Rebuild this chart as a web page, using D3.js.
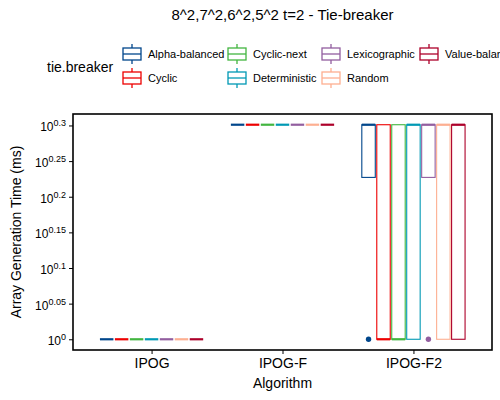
<!DOCTYPE html>
<html>
<head>
<meta charset="utf-8">
<script src="https://cdn.jsdelivr.net/npm/d3@7"></script>
<style>
  body { margin: 0; background: #fff; }
  svg { font-family: "Liberation Sans", Arial, sans-serif; }
</style>
</head>
<body>
<div id="viz"></div>
<script>
// ── DATA ────────────────────────────────────────────────────────────────────
const algorithms = ["IPOG", "IPOG-F", "IPOG-F2"];
const tieBreakers = ["Alpha-balanced", "Cyclic", "Cyclic-next", "Deterministic",
                     "Lexicographic", "Random", "Value-balanced"];
const palette = ["#00468B", "#ED0000", "#42B540", "#0099B4", "#925E9F", "#FDAF91", "#AD002A"];

// box stats per tie-breaker: [ymin, lower, middle, upper, ymax] in ms
const ipogBoxes = [
  [1, 1, 1, 1, 1], [1, 1, 1, 1, 1], [1, 1, 1, 1, 1], [1, 1, 1, 1, 1],
  [1, 1, 1, 1, 1], [1, 1, 1, 1, 1], [1, 1, 1, 1, 1]
];
const ipogFBoxes = [
  [2, 2, 2, 2, 2], [2, 2, 2, 2, 2], [2, 2, 2, 2, 2], [2, 2, 2, 2, 2],
  [2, 2, 2, 2, 2], [2, 2, 2, 2, 2], [2, 2, 2, 2, 2]
];
const ipogF2Boxes = [
  [1.687, 1.687, 2, 2, 2],
  [1, 1, 1, 2, 2],
  [1, 1, 1, 2, 2],
  [1, 1, 2, 2, 2],
  [1.687, 1.687, 2, 2, 2],
  [1, 1, 2, 2, 2],
  [1, 1, 2, 2, 2]
];
const ipogF2Outliers = [[1], [], [], [], [1], [], []];

const yExponents = [0, 0.05, 0.1, 0.15, 0.2, 0.25, 0.3];
const yExpLabels = ["0", "0.05", "0.1", "0.15", "0.2", "0.25", "0.3"];

// ── SETTINGS ────────────────────────────────────────────────────────────────
const width = 500, height = 400;
const panel = { left: 73, right: 492, top: 114, bottom: 350 };

const svg = d3.select("#viz").append("svg")
    .attr("viewBox", [0, 0, width, height])
    .attr("width", width)
    .attr("height", height);

const boxesByAlg = [ipogBoxes, ipogFBoxes, ipogF2Boxes];
const outliersByAlg = [tieBreakers.map(() => []), tieBreakers.map(() => []), ipogF2Outliers];

const rows = [];
algorithms.forEach((alg, ai) => {
  tieBreakers.forEach((tb, ti) => {
    const s = boxesByAlg[ai][ti];
    rows.push({ alg, tb, ymin: s[0], lower: s[1], middle: s[2], upper: s[3], ymax: s[4],
                out: outliersByAlg[ai][ti] });
  });
});

// ── SCALES ──────────────────────────────────────────────────────────────────
const lo = Math.log10(1), hi = Math.log10(2);
const pad = (hi - lo) * 0.05;
const y = d3.scaleLog()
    .domain([Math.pow(10, lo - pad), Math.pow(10, hi + pad)])
    .range([panel.bottom, panel.top]);

const x = d3.scalePoint()
    .domain(algorithms)
    .range([panel.left, panel.right])
    .padding(0.6);

const dodge = d3.scaleBand()
    .domain(tieBreakers)
    .range([-0.4 * x.step(), 0.4 * x.step()])
    .paddingInner(0.1)
    .paddingOuter(0.05);

const color = d3.scaleOrdinal().domain(tieBreakers).range(palette);

// ── TITLE ───────────────────────────────────────────────────────────────────
svg.append("text")
    .attr("x", (panel.left + panel.right) / 2)
    .attr("y", 20)
    .attr("text-anchor", "middle")
    .attr("font-size", "15px")
    .attr("fill", "#000")
    .text("8^2,7^2,6^2,5^2 t=2 - Tie-breaker");

// ── LEGEND ──────────────────────────────────────────────────────────────────
svg.append("text")
    .attr("x", 47)
    .attr("y", 72)
    .attr("font-size", "14px")
    .attr("fill", "#000")
    .text("tie.breaker");

const colX = [122, 227, 321, 419];
const rowY = [54, 78];
const key = svg.append("g").selectAll("g")
  .data(tieBreakers)
  .join("g")
    .attr("transform", (d, i) => `translate(${colX[Math.floor(i / 2)]},${rowY[i % 2]})`);

key.append("line")
    .attr("x1", 10).attr("x2", 10).attr("y1", -10).attr("y2", 10)
    .attr("stroke", d => color(d)).attr("stroke-width", 1.3);
key.append("rect")
    .attr("x", 1).attr("y", -6).attr("width", 18).attr("height", 12)
    .attr("fill", "#fff")
    .attr("stroke", d => color(d)).attr("stroke-width", 1.3);
key.append("line")
    .attr("x1", 1).attr("x2", 19).attr("y1", 0).attr("y2", 0)
    .attr("stroke", d => color(d)).attr("stroke-width", 1.3);
key.append("text")
    .attr("x", 26).attr("y", 4)
    .attr("font-size", "11px")
    .attr("fill", "#000")
    .text(d => d);

// ── BOXES ───────────────────────────────────────────────────────────────────
const boxes = svg.append("g").selectAll("g")
  .data(rows)
  .join("g")
    .attr("transform", d => `translate(${x(d.alg) + dodge(d.tb)},0)`);

const bw = dodge.bandwidth();

boxes.append("line")
    .attr("x1", bw / 2).attr("x2", bw / 2)
    .attr("y1", d => y(d.upper)).attr("y2", d => y(d.ymax))
    .attr("stroke", d => color(d.tb)).attr("stroke-width", 1.1);
boxes.append("line")
    .attr("x1", bw / 2).attr("x2", bw / 2)
    .attr("y1", d => y(d.lower)).attr("y2", d => y(d.ymin))
    .attr("stroke", d => color(d.tb)).attr("stroke-width", 1.1);
boxes.append("rect")
    .attr("x", 0).attr("width", bw)
    .attr("y", d => y(d.upper))
    .attr("height", d => y(d.lower) - y(d.upper))
    .attr("fill", "#fff")
    .attr("stroke", d => color(d.tb)).attr("stroke-width", 1.1);
boxes.append("line")
    .attr("x1", 0).attr("x2", bw)
    .attr("y1", d => y(d.middle)).attr("y2", d => y(d.middle))
    .attr("stroke", d => color(d.tb)).attr("stroke-width", 2.2);
boxes.selectAll("circle")
  .data(d => d.out.map(v => ({ v, tb: d.tb })))
  .join("circle")
    .attr("cx", bw / 2)
    .attr("cy", d => y(d.v))
    .attr("r", 2.7)
    .attr("fill", d => color(d.tb));

// ── AXES ────────────────────────────────────────────────────────────────────
svg.append("rect")
    .attr("x", panel.left).attr("y", panel.top)
    .attr("width", panel.right - panel.left)
    .attr("height", panel.bottom - panel.top)
    .attr("fill", "none")
    .attr("stroke", "#000")
    .attr("stroke-width", 1.6);

const xAxis = svg.append("g")
    .attr("transform", `translate(0,${panel.bottom})`)
    .call(d3.axisBottom(x).tickSize(4).tickPadding(4));
xAxis.select(".domain").remove();
xAxis.selectAll(".tick text").attr("font-size", "14px").attr("fill", "#000")
    .attr("font-family", "Liberation Sans, Arial, sans-serif");

const yAxis = svg.append("g")
    .attr("transform", `translate(${panel.left},0)`)
    .call(d3.axisLeft(y).tickValues(yExponents.map(e => Math.pow(10, e))).tickSize(4).tickPadding(3));
yAxis.select(".domain").remove();
yAxis.selectAll(".tick text")
    .attr("font-size", "12px").attr("fill", "#000")
    .attr("font-family", "Liberation Sans, Arial, sans-serif")
    .attr("dy", "0.45em")
    .text(null)
    .each(function(d, i) {
      const t = d3.select(this);
      t.append("tspan").text("10");
      t.append("tspan").attr("dy", "-0.55em").attr("font-size", "9px").text(yExpLabels[i]);
    });

svg.append("text")
    .attr("x", (panel.left + panel.right) / 2)
    .attr("y", 388)
    .attr("text-anchor", "middle")
    .attr("font-size", "14px")
    .attr("fill", "#000")
    .text("Algorithm");

svg.append("text")
    .attr("transform", `translate(21,${(panel.top + panel.bottom) / 2}) rotate(-90)`)
    .attr("text-anchor", "middle")
    .attr("font-size", "14px")
    .attr("fill", "#000")
    .text("Array Generation Time (ms)");
</script>
</body>
</html>
